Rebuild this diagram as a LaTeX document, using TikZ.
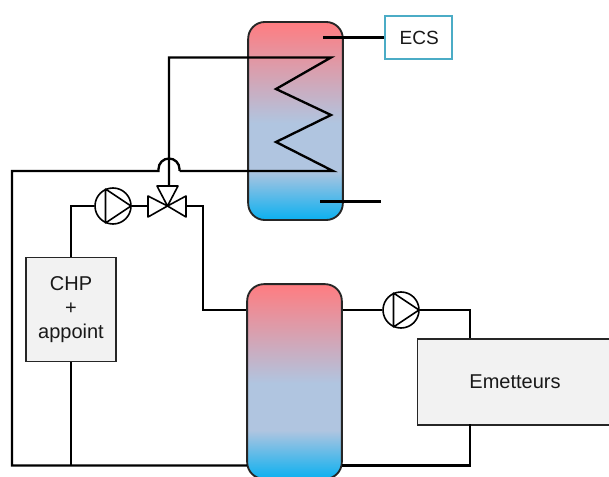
\documentclass[tikz,border=0pt]{standalone}
\usepackage{fontspec}
\setmainfont{Liberation Sans}
\definecolor{tr}{HTML}{FF7C80}
\definecolor{tm}{HTML}{B0C5E0}
\definecolor{tb}{HTML}{0BB0F0}
\definecolor{boxgrey}{HTML}{F2F2F2}
\definecolor{ecsline}{HTML}{4BACC6}
\definecolor{pipe}{HTML}{000000}
\pgfdeclareverticalshading{tankshade}{100bp}{color(0bp)=(tb); color(25bp)=(tb); color(37.5bp)=(tm); color(49.5bp)=(tm); color(75bp)=(tr); color(100bp)=(tr)}
\tikzset{
  x=0.75pt,y=-0.75pt,
  pipeline/.style={draw=pipe,line width=1.75pt,line join=miter},
  thinline/.style={draw=pipe,line width=1.2pt,line join=round},
  tankbox/.style={draw=black!85,line width=1.4pt,rounded corners=12.5pt,shading=tankshade,inner sep=0pt,minimum width=71pt},
  greybox/.style={draw=black!85,line width=1.3pt,fill=boxgrey,inner sep=0pt,font=\fontsize{15}{18}\selectfont,align=center,text=black!90},
  pumpnode/.style={circle,draw=black,line width=1.2pt,fill=white,inner sep=0pt,minimum size=27pt},
  ecsbox/.style={draw=ecsline,line width=1.4pt,fill=white,inner sep=0pt,font=\fontsize{14.3}{19}\selectfont,text=black!90,minimum width=50pt,minimum height=32pt}
}
\begin{document}
\begin{tikzpicture}
\useasboundingbox (0,0) rectangle (609,477);
\clip (0,0) rectangle (609,477);
% tanks
\node[tankbox,minimum height=148.5pt] (t1) at (295.5,121) {};
\node[tankbox,minimum height=146pt] (t2) at (294.5,381.5) {};
% boxes
\node[ecsbox] (ecs) at (418.5,37.5) {\hspace{1pt}ECS};
\node[greybox,minimum width=67.5pt,minimum height=78pt] (chp) at (71,309.5) {CHP\\+\\appoint};
\node[greybox,minimum width=210pt,minimum height=64.5pt,anchor=north west] (em) at (416.5,338) {};
\node[font=\fontsize{15}{18}\selectfont,text=black!90] (emt) at (515,382) {Emetteurs};
% pumps
\node[pumpnode] (p1) at (113,206) {};
\node[pumpnode] (p2) at (401,310) {};
% named points
\coordinate (vc) at (167.5,206);
\coordinate (vl) at (148,206);
\coordinate (vr) at (186,206);
\coordinate (vt) at (169,186);
\coordinate (ecsin) at (323,37.5);
\coordinate (out) at (381,201.5);
\coordinate (outin) at (320,201.5);
\coordinate (c0) at (169,57.5);
\coordinate (c1) at (331,57.5);
\coordinate (c2) at (276,89);
\coordinate (c3) at (331,115);
\coordinate (c4) at (276,142);
\coordinate (c5) at (333,171);
\coordinate (hr) at (179.5,171);
\coordinate (hl) at (158.5,171);
\coordinate (lt) at (12,171);
\coordinate (lb) at (12,465.5);
\coordinate (jb) at (71,465.5);
\coordinate (t2l) at (247,465.5);
\coordinate (t2r) at (342,465.5);
% connectors
\draw[pipeline] (ecsin) -- (ecs.west);
\draw[pipeline] (outin) -- (out);
\draw[pipeline] (vt) -- (c0) -- (c1) -- (c2) -- (c3) -- (c4) -- (c5) -- (hr);
\draw[pipeline] (hr) -- (179.5,169) arc (0:-180:10.5) -- (hl) -- (lt) -- (lb) -- (t2l);
\draw[pipeline] (jb) -- (chp.south);
\draw[pipeline] (chp.north) -- (71,206) -- (p1.west);
\draw[pipeline] (p1.east) -- (vl);
\draw[pipeline] (vr) -- (203,206) -- (203,310) -- (t2.west |- 0,310);
\draw[pipeline] (t2.east |- 0,310) -- (p2.west);
\draw[pipeline] (p2.east) -- (470,310) -- (470,338);
\draw[pipeline] (470,424) -- (470,465.5) -- (t2r);
% pump triangles
\draw[thinline] (105.5,189) -- (131,206) -- (105.5,223) -- cycle;
\draw[thinline] (393.5,293) -- (419,310) -- (393.5,327) -- cycle;
% valve
\draw[thinline,fill=white] (vc) -- (148,196) -- (148,217) -- cycle;
\draw[thinline,fill=white] (vc) -- (186,196) -- (186,217) -- cycle;
\draw[thinline,fill=white] (vc) -- (157,186) -- (178,186) -- cycle;
\end{tikzpicture}
\end{document}
